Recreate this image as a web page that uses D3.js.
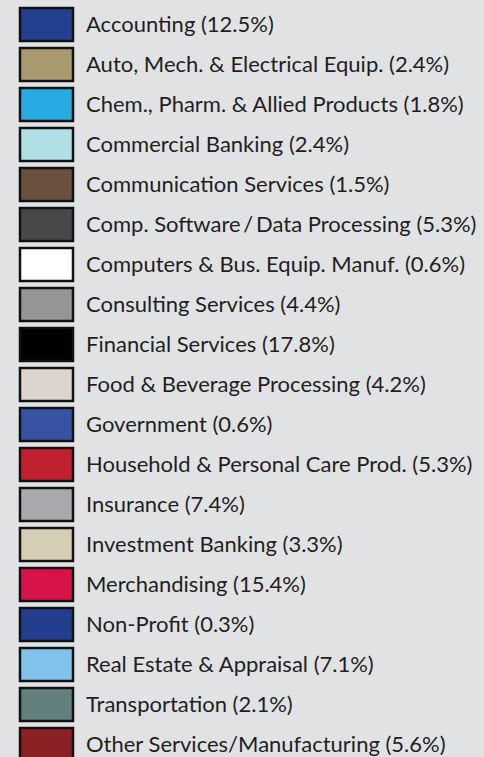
<!DOCTYPE html>
<html>
<head>
<meta charset="utf-8">
<script src="https://cdn.jsdelivr.net/npm/d3@7"></script>
<style>
  html, body { margin: 0; padding: 0; background: #e1e2e4; overflow: hidden; }
</style>
</head>
<body>
<svg id="drawing_region"></svg>
<script>
const categories = [
    "Accounting",
    "Auto, Mech. & Electrical Equip.",
    "Chem., Pharm. & Allied Products",
    "Commercial Banking",
    "Communication Services",
    "Comp. Software\u2009/\u2009Data Processing",
    "Computers & Bus. Equip. Manuf.",
    "Consulting Services",
    "Financial Services",
    "Food & Beverage Processing",
    "Government",
    "Household & Personal Care Prod.",
    "Insurance",
    "Investment Banking",
    "Merchandising",
    "Non-Profit",
    "Real Estate & Appraisal",
    "Transportation",
    "Other Services/Manufacturing"
];
const percents = [12.5, 2.4, 1.8, 2.4, 1.5, 5.3, 0.6, 4.4, 17.8, 4.2, 0.6, 5.3, 7.4, 3.3, 15.4, 0.3, 7.1, 2.1, 5.6];
const colors = [
    "#233f8f", "#a89a6f", "#27a9e1", "#b0e0e3", "#6b4f3f", "#474849", "#ffffff",
    "#959595", "#000000", "#ddd5cd", "#3953a4", "#c1202e", "#a7a9ac", "#d6cdb7",
    "#d7144a", "#233e8e", "#80c2ea", "#63807f", "#8b2125"
];

const width = 484, height = 757;
const margin = {top: 8, left: 20};
const rowStep = 40;
const pad = 0.15;

const svg = d3.select('#drawing_region')
    .attr('width', width)
    .attr('height', height)
    .style('display', 'block');

// band scale with an exact 40px step
const yscale = d3.scaleBand()
    .domain(categories)
    .range([margin.top, margin.top + rowStep * (categories.length - pad)])
    .paddingInner(pad)
    .paddingOuter(0);

const color = d3.scaleOrdinal()
    .domain(categories)
    .range(colors);

const data = categories.map((c, i) => ({label: c, value: percents[i]}));

const rows = svg.selectAll('g.row')
    .data(data)
    .enter()
    .append('g')
    .attr('class', 'row')
    .attr('transform', d => `translate(0, ${yscale(d.label)})`);

rows.append('rect')
    .attr('x', margin.left)
    .attr('y', 0)
    .attr('width', 53)
    .attr('height', yscale.bandwidth() - 1)
    .attr('fill', d => color(d.label))
    .attr('stroke', '#111')
    .attr('stroke-width', 2.5);

rows.append('text')
    .attr('x', 86)
    .attr('y', yscale.bandwidth() / 2 + 7)
    .attr('fill', '#231f20')
    .attr('font-family', 'Lato, sans-serif')
    .attr('font-size', '22px')
    .text(d => `${d.label} (${d.value}%)`);
</script>
</body>
</html>
